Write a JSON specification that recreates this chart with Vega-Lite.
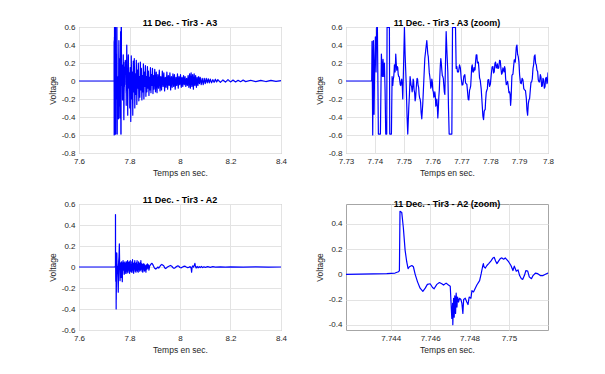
{
  "$schema": "https://vega.github.io/schema/vega-lite/v6.json",
  "autosize": {"type": "pad"},
  "padding": {"left": 47, "top": 18, "right": 5, "bottom": 5},
  "background": "white",
  "config": {
    "view": {"stroke": "#a6a6a6", "strokeWidth": 1},
    "font": "Liberation Sans",
    "axis": {
      "labelFont": "Liberation Sans", "labelFontSize": 8, "labelColor": "#262626",
      "titleFont": "Liberation Sans", "titleFontSize": 8.5, "titleFontWeight": "normal", "titleColor": "#262626",
      "domain": false, "gridColor": "#e3e3e3", "ticks": false, "labelPadding": 4,
      "labelFlush": false, "labelOverlap": false
    },
    "axisY": {"titlePadding": 4},
    "axisX": {"titlePadding": 3},
    "title": {"font": "Liberation Sans", "fontSize": 9, "fontWeight": "bold", "color": "#000000", "offset": -5}
  },
  "datasets": {
    "a3": [
      {"t":7.6,"v":0},{"t":7.73891,"v":0},{"t":7.73902,"v":0.44},{"t":7.73926,"v":-0.6},{"t":7.73949,"v":0.45},{"t":7.73972,"v":-0.37},{"t":7.73995,"v":0.2},{"t":7.74018,"v":0.49},{"t":7.74041,"v":0.1},{"t":7.74064,"v":0.595},{"t":7.74088,"v":0.595},{"t":7.74122,"v":-0.59},{"t":7.74192,"v":-0.59},{"t":7.74226,"v":0.3},{"t":7.74261,"v":0.05},{"t":7.74284,"v":0.24},{"t":7.74307,"v":0.05},{"t":7.74331,"v":0.2},{"t":7.74354,"v":-0.1},{"t":7.74377,"v":-0.59},{"t":7.74412,"v":-0.59},{"t":7.74423,"v":0.595},{"t":7.74504,"v":0.595},{"t":7.74516,"v":-0.59},{"t":7.74574,"v":-0.59},{"t":7.74597,"v":0.05},{"t":7.7462,"v":-0.05},{"t":7.74655,"v":0.05},{"t":7.74678,"v":0.18},{"t":7.74701,"v":0.1},{"t":7.74724,"v":0.3},{"t":7.74759,"v":0.12},{"t":7.74793,"v":0.15},{"t":7.74828,"v":0.05},{"t":7.74863,"v":0.0},{"t":7.74898,"v":-0.05},{"t":7.74932,"v":0.02},{"t":7.74967,"v":-0.2},{"t":7.7499,"v":0.1},{"t":7.75025,"v":0.595},{"t":7.75048,"v":0.3},{"t":7.75083,"v":0.0},{"t":7.75117,"v":-0.4},{"t":7.7514,"v":-0.59},{"t":7.75175,"v":-0.3},{"t":7.75198,"v":-0.15},{"t":7.75221,"v":0.05},{"t":7.75256,"v":-0.05},{"t":7.75291,"v":-0.12},{"t":7.75326,"v":0.02},{"t":7.7536,"v":-0.1},{"t":7.75395,"v":-0.22},{"t":7.7543,"v":-0.1},{"t":7.75464,"v":0.03},{"t":7.75499,"v":-0.05},{"t":7.75534,"v":-0.15},{"t":7.75569,"v":-0.2},{"t":7.75603,"v":-0.35},{"t":7.75626,"v":-0.42},{"t":7.75661,"v":-0.25},{"t":7.75696,"v":0.0},{"t":7.75731,"v":0.25},{"t":7.75765,"v":0.35},{"t":7.758,"v":0.45},{"t":7.75835,"v":0.3},{"t":7.75869,"v":0.18},{"t":7.75904,"v":0.05},{"t":7.75939,"v":-0.08},{"t":7.75974,"v":0.02},{"t":7.76008,"v":-0.1},{"t":7.76043,"v":-0.18},{"t":7.76078,"v":-0.12},{"t":7.76112,"v":-0.28},{"t":7.76147,"v":-0.2},{"t":7.76182,"v":-0.41},{"t":7.76216,"v":-0.18},{"t":7.76251,"v":0.05},{"t":7.76286,"v":0.25},{"t":7.76321,"v":0.12},{"t":7.76355,"v":0.05},{"t":7.7639,"v":-0.05},{"t":7.76425,"v":-0.15},{"t":7.76448,"v":0.2},{"t":7.76471,"v":0.55},{"t":7.76494,"v":0.35},{"t":7.76529,"v":0.1},{"t":7.76552,"v":-0.3},{"t":7.76575,"v":-0.59},{"t":7.76668,"v":-0.59},{"t":7.76691,"v":0.595},{"t":7.76795,"v":0.595},{"t":7.76818,"v":0.14},{"t":7.76864,"v":0.1},{"t":7.76934,"v":0.18},{"t":7.76992,"v":0.03},{"t":7.7705,"v":-0.04},{"t":7.77119,"v":0.07},{"t":7.77165,"v":-0.03},{"t":7.77212,"v":-0.12},{"t":7.77258,"v":-0.21},{"t":7.77304,"v":-0.08},{"t":7.77339,"v":0.05},{"t":7.77374,"v":0.18},{"t":7.7742,"v":0.1},{"t":7.77455,"v":0.12},{"t":7.77489,"v":0.21},{"t":7.77535,"v":0.29},{"t":7.7757,"v":0.2},{"t":7.77605,"v":0.14},{"t":7.77651,"v":0.01},{"t":7.77721,"v":-0.27},{"t":7.77767,"v":-0.43},{"t":7.77813,"v":-0.32},{"t":7.77836,"v":-0.23},{"t":7.77883,"v":-0.1},{"t":7.77917,"v":0.01},{"t":7.77975,"v":-0.06},{"t":7.78033,"v":0.07},{"t":7.78091,"v":0.16},{"t":7.78137,"v":0.1},{"t":7.78183,"v":0.21},{"t":7.7823,"v":0.16},{"t":7.78264,"v":0.14},{"t":7.78322,"v":0.23},{"t":7.78369,"v":0.14},{"t":7.78415,"v":0.09},{"t":7.78461,"v":0.12},{"t":7.78496,"v":0.16},{"t":7.78531,"v":0.03},{"t":7.78577,"v":-0.03},{"t":7.78623,"v":-0.06},{"t":7.78669,"v":-0.12},{"t":7.78704,"v":-0.27},{"t":7.78739,"v":-0.03},{"t":7.78762,"v":0.07},{"t":7.78808,"v":0.16},{"t":7.78854,"v":0.23},{"t":7.78878,"v":0.27},{"t":7.78924,"v":0.4},{"t":7.7897,"v":0.27},{"t":7.79016,"v":0.07},{"t":7.79074,"v":-0.03},{"t":7.79132,"v":0.01},{"t":7.7919,"v":-0.1},{"t":7.79248,"v":-0.19},{"t":7.79294,"v":-0.38},{"t":7.7934,"v":-0.21},{"t":7.79387,"v":-0.1},{"t":7.79433,"v":-0.01},{"t":7.79479,"v":0.14},{"t":7.79502,"v":0.18},{"t":7.79549,"v":0.29},{"t":7.79595,"v":0.18},{"t":7.79618,"v":0.12},{"t":7.79664,"v":0.01},{"t":7.79687,"v":-0.01},{"t":7.79734,"v":0.07},{"t":7.7978,"v":-0.06},{"t":7.79826,"v":0.03},{"t":7.79873,"v":-0.08},{"t":7.79919,"v":0.03},{"t":7.79965,"v":-0.03},{"t":7.8,"v":0.09},
      {"t":7.801,"v":-0.3},{"t":7.803,"v":0.15},{"t":7.805,"v":-0.45},{"t":7.807,"v":0.28},{"t":7.809,"v":-0.2},{"t":7.811,"v":0.1},{"t":7.813,"v":-0.38},{"t":7.815,"v":0.22},{"t":7.817,"v":-0.12},{"t":7.819,"v":0.25},{"t":7.821,"v":-0.3},{"t":7.823,"v":0.08},{"t":7.825,"v":-0.15},{"t":7.827,"v":0.23},{"t":7.829,"v":-0.26},{"t":7.831,"v":0.12},{"t":7.833,"v":-0.08},{"t":7.835,"v":0.2},{"t":7.837,"v":-0.22},{"t":7.839,"v":0.05},{"t":7.841,"v":-0.18},{"t":7.843,"v":0.21},{"t":7.845,"v":-0.1},{"t":7.847,"v":0.14},{"t":7.849,"v":-0.21},{"t":7.851,"v":0.06},{"t":7.853,"v":-0.12},{"t":7.855,"v":0.19},{"t":7.857,"v":-0.2},{"t":7.859,"v":0.1},{"t":7.861,"v":-0.06},{"t":7.863,"v":0.17},{"t":7.865,"v":-0.17},{"t":7.867,"v":0.05},{"t":7.869,"v":-0.12},{"t":7.871,"v":0.16},{"t":7.873,"v":-0.08},{"t":7.875,"v":0.11},{"t":7.877,"v":-0.16},{"t":7.879,"v":0.04},{"t":7.881,"v":-0.1},{"t":7.883,"v":0.15},{"t":7.885,"v":-0.13},{"t":7.887,"v":0.07},{"t":7.889,"v":-0.05},{"t":7.891,"v":0.14},{"t":7.893,"v":-0.14},{"t":7.895,"v":0.06},{"t":7.897,"v":-0.09},{"t":7.9,"v":0.13},{"t":7.903,"v":-0.12},{"t":7.906,"v":0.1},{"t":7.909,"v":-0.13},{"t":7.912,"v":0.07},{"t":7.915,"v":-0.08},{"t":7.918,"v":0.12},{"t":7.921,"v":-0.11},{"t":7.924,"v":0.05},{"t":7.927,"v":-0.1},{"t":7.93,"v":0.11},{"t":7.933,"v":-0.06},{"t":7.936,"v":0.09},{"t":7.939,"v":-0.11},{"t":7.942,"v":0.04},{"t":7.945,"v":-0.07},{"t":7.948,"v":0.1},{"t":7.951,"v":-0.09},{"t":7.954,"v":0.06},{"t":7.957,"v":-0.05},{"t":7.96,"v":0.09},{"t":7.963,"v":-0.1},{"t":7.966,"v":0.05},{"t":7.969,"v":-0.07},{"t":7.972,"v":0.08},{"t":7.975,"v":-0.06},{"t":7.978,"v":0.07},{"t":7.981,"v":-0.09},{"t":7.984,"v":0.04},{"t":7.987,"v":-0.05},{"t":7.99,"v":0.08},{"t":7.993,"v":-0.08},{"t":7.996,"v":0.05},{"t":7.999,"v":-0.04},{"t":8.002,"v":0.07},{"t":8.005,"v":-0.07},{"t":8.008,"v":0.04},{"t":8.011,"v":-0.06},{"t":8.014,"v":0.06},{"t":8.017,"v":-0.04},{"t":8.02,"v":0.05},{"t":8.023,"v":-0.06},{"t":8.026,"v":0.03},{"t":8.029,"v":-0.05},{"t":8.032,"v":0.06},{"t":8.035,"v":-0.07},{"t":8.038,"v":0.08},{"t":8.041,"v":-0.08},{"t":8.044,"v":0.09},{"t":8.047,"v":-0.06},{"t":8.05,"v":0.07},{"t":8.053,"v":-0.09},{"t":8.056,"v":0.08},{"t":8.059,"v":-0.05},{"t":8.062,"v":0.06},{"t":8.065,"v":-0.07},{"t":8.068,"v":0.04},{"t":8.071,"v":-0.05},{"t":8.074,"v":0.05},{"t":8.077,"v":-0.03},{"t":8.08,"v":0.04},{"t":8.084,"v":-0.04},{"t":8.088,"v":0.03},{"t":8.092,"v":-0.04},{"t":8.096,"v":0.03},{"t":8.1,"v":-0.03},{"t":8.104,"v":0.03},{"t":8.108,"v":-0.02},{"t":8.112,"v":0.025},{"t":8.116,"v":-0.02},{"t":8.12,"v":0.02},{"t":8.125,"v":-0.02},{"t":8.13,"v":0.015},{"t":8.135,"v":-0.015},{"t":8.14,"v":0.02},{"t":8.145,"v":-0.01},{"t":8.15,"v":0.015},{"t":8.16,"v":-0.015},{"t":8.17,"v":0.012},{"t":8.18,"v":-0.012},{"t":8.19,"v":0.015},{"t":8.2,"v":-0.01},{"t":8.21,"v":0.01},{"t":8.22,"v":-0.01},{"t":8.23,"v":0.008},{"t":8.24,"v":-0.008},{"t":8.25,"v":0.01},{"t":8.26,"v":-0.007},{"t":8.28,"v":0.008},{"t":8.3,"v":-0.007},{"t":8.32,"v":0.007},{"t":8.34,"v":-0.006},{"t":8.36,"v":0.006},{"t":8.38,"v":-0.005},{"t":8.4,"v":0.004},
      {"t":7.74638,"v":0.02},{"t":7.74666,"v":0.1},{"t":7.7469,"v":0.16},{"t":7.74712,"v":0.17},{"t":7.74741,"v":0.2},{"t":7.74776,"v":0.16},{"t":7.7481,"v":0.07},{"t":7.74845,"v":0.05},{"t":7.7488,"v":-0.04},{"t":7.74915,"v":0.0},{"t":7.7495,"v":-0.05},
      {"t":7.75273,"v":-0.06},{"t":7.75308,"v":-0.08},{"t":7.75343,"v":0.0},{"t":7.75378,"v":-0.13},{"t":7.75412,"v":-0.19},{"t":7.75447,"v":-0.02},{"t":7.75482,"v":0.02},{"t":7.75517,"v":-0.07},{"t":7.75552,"v":-0.19},{"t":7.75586,"v":-0.24},{"t":7.75852,"v":0.27},{"t":7.75887,"v":0.09},{"t":7.75921,"v":0.0},{"t":7.75956,"v":-0.06},{"t":7.75991,"v":-0.01},{"t":7.76026,"v":-0.12},{"t":7.7606,"v":-0.17},{"t":7.76095,"v":-0.17},{"t":7.7613,"v":-0.26},{"t":7.76164,"v":-0.28},{"t":7.76199,"v":-0.32},{"t":7.76234,"v":-0.1},{"t":7.76268,"v":0.17},{"t":7.76303,"v":0.2},{"t":7.76338,"v":0.06},{"t":7.76372,"v":0.03},{"t":7.76407,"v":-0.12},
      {"t":7.76841,"v":0.16},{"t":7.76899,"v":0.1},{"t":7.76963,"v":0.145},{"t":7.77021,"v":-0.045},{"t":7.77085,"v":0.055},{"t":7.77142,"v":-0.02},{"t":7.77188,"v":-0.035},{"t":7.77235,"v":-0.205},{"t":7.77281,"v":-0.105},{"t":7.77321,"v":-0.055},{"t":7.77356,"v":0.155},{"t":7.77397,"v":0.1},{"t":7.77437,"v":0.15},{"t":7.77472,"v":0.125},{"t":7.77512,"v":0.29},{"t":7.77552,"v":0.205},{"t":7.77587,"v":0.21},{"t":7.77628,"v":0.035},{"t":7.77686,"v":-0.09},{"t":7.77744,"v":-0.39},{"t":7.7779,"v":-0.335},{"t":7.77824,"v":-0.315},{"t":7.7786,"v":-0.125},{"t":7.779,"v":-0.085},{"t":7.77946,"v":0.015},{"t":7.78004,"v":-0.035},{"t":7.78062,"v":0.155},{"t":7.78114,"v":0.09},{"t":7.7816,"v":0.195},{"t":7.78207,"v":0.145},{"t":7.78247,"v":0.19},{"t":7.78293,"v":0.145},{"t":7.78346,"v":0.225},{"t":7.78392,"v":0.075},{"t":7.78438,"v":0.145},{"t":7.78479,"v":0.1},{"t":7.78514,"v":0.135},{"t":7.78554,"v":-0.04},{"t":7.786,"v":-0.005},{"t":7.78646,"v":-0.13},{"t":7.78687,"v":-0.155},{"t":7.78722,"v":-0.19},{"t":7.7875,"v":0.06},{"t":7.78785,"v":0.075},{"t":7.78831,"v":0.235},{"t":7.78866,"v":0.21},{"t":7.78901,"v":0.375},{"t":7.78947,"v":0.295},{"t":7.78993,"v":0.21},{"t":7.79045,"v":-0.02},{"t":7.79103,"v":0.03},{"t":7.79161,"v":-0.085},{"t":7.79219,"v":-0.105},{"t":7.79271,"v":-0.325},{"t":7.79317,"v":-0.255},{"t":7.79363,"v":-0.195},{"t":7.7941,"v":-0.015},{"t":7.79456,"v":0.025},{"t":7.79525,"v":0.275},{"t":7.79572,"v":0.195},{"t":7.79641,"v":0.105},{"t":7.7971,"v":-0.01},{"t":7.79757,"v":0.045},{"t":7.79803,"v":-0.055},{"t":7.7985,"v":0.015},{"t":7.79896,"v":-0.065},{"t":7.79942,"v":0.04},{"t":7.79983,"v":-0.01}
    ],
    "a2": [
      {"t":7.6,"v":0},{"t":7.74173,"v":0},{"t":7.7438,"v":0.005},{"t":7.74422,"v":0.01},{"t":7.74439,"v":0.02},{"t":7.74444,"v":0.03},{"t":7.74447,"v":0.5},{"t":7.74456,"v":0.49},{"t":7.74464,"v":0.37},{"t":7.74473,"v":0.19},{"t":7.74481,"v":0.1},{"t":7.74488,"v":0.045},{"t":7.74495,"v":0.06},{"t":7.74507,"v":0.07},{"t":7.74515,"v":0.06},{"t":7.74524,"v":0.0},{"t":7.74536,"v":-0.06},{"t":7.74549,"v":-0.11},{"t":7.74563,"v":-0.135},{"t":7.74575,"v":-0.11},{"t":7.74586,"v":-0.08},{"t":7.746,"v":-0.075},{"t":7.74612,"v":-0.105},{"t":7.7462,"v":-0.115},{"t":7.74634,"v":-0.08},{"t":7.74647,"v":-0.065},{"t":7.74659,"v":-0.075},{"t":7.74668,"v":-0.085},{"t":7.74681,"v":-0.07},{"t":7.74693,"v":-0.085},{"t":7.74702,"v":-0.095},{"t":7.74707,"v":-0.26},{"t":7.7471,"v":-0.35},{"t":7.74714,"v":-0.23},{"t":7.74715,"v":-0.4},{"t":7.74719,"v":-0.19},{"t":7.74722,"v":-0.34},{"t":7.74725,"v":-0.17},{"t":7.74729,"v":-0.31},{"t":7.74732,"v":-0.15},{"t":7.74736,"v":-0.26},{"t":7.74739,"v":-0.18},{"t":7.74744,"v":-0.22},{"t":7.74749,"v":-0.19},{"t":7.74756,"v":-0.2},{"t":7.74761,"v":-0.23},{"t":7.74766,"v":-0.31},{"t":7.7477,"v":-0.2},{"t":7.74778,"v":-0.19},{"t":7.74786,"v":-0.22},{"t":7.74792,"v":-0.24},{"t":7.74798,"v":-0.18},{"t":7.74807,"v":-0.19},{"t":7.74812,"v":-0.13},{"t":7.7482,"v":-0.14},{"t":7.74829,"v":-0.11},{"t":7.74837,"v":-0.085},{"t":7.74851,"v":-0.05},{"t":7.74859,"v":0.005},{"t":7.74866,"v":0.06},{"t":7.7487,"v":0.085},{"t":7.74873,"v":0.06},{"t":7.7488,"v":0.05},{"t":7.74888,"v":0.07},{"t":7.74897,"v":0.085},{"t":7.74908,"v":0.105},{"t":7.74919,"v":0.13},{"t":7.74925,"v":0.135},{"t":7.74932,"v":0.105},{"t":7.74939,"v":0.085},{"t":7.74947,"v":0.105},{"t":7.74956,"v":0.125},{"t":7.74964,"v":0.13},{"t":7.74973,"v":0.12},{"t":7.74981,"v":0.13},{"t":7.7499,"v":0.115},{"t":7.74998,"v":0.1},{"t":7.7501,"v":0.07},{"t":7.7502,"v":0.03},{"t":7.75027,"v":0.065},{"t":7.75037,"v":0.025},{"t":7.75046,"v":0.035},{"t":7.75054,"v":-0.01},{"t":7.75063,"v":-0.035},{"t":7.7507,"v":-0.04},{"t":7.75078,"v":-0.01},{"t":7.75086,"v":0.03},{"t":7.75095,"v":0.025},{"t":7.75103,"v":-0.02},{"t":7.75114,"v":-0.035},{"t":7.75122,"v":-0.01},{"t":7.75134,"v":0.01},{"t":7.75146,"v":0.005},{"t":7.75159,"v":-0.01},{"t":7.75173,"v":-0.01},{"t":7.75185,"v":0},{"t":7.75198,"v":0.01},
      {"t":7.754,"v":-0.1},{"t":7.7555,"v":-0.24},{"t":7.757,"v":0.05},{"t":7.7585,"v":0.1},{"t":7.7598,"v":0.22},{"t":7.761,"v":0.02},{"t":7.7625,"v":-0.13},{"t":7.764,"v":-0.05},{"t":7.7655,"v":0.04},{"t":7.767,"v":-0.1},{"t":7.7685,"v":0.05},{"t":7.77,"v":-0.06},{"t":7.7715,"v":-0.14},{"t":7.773,"v":0.02},{"t":7.7745,"v":0.06},{"t":7.776,"v":-0.03},{"t":7.7775,"v":0.04},{"t":7.779,"v":-0.07},{"t":7.7805,"v":0.02},{"t":7.782,"v":0.05},{"t":7.7835,"v":-0.06},{"t":7.785,"v":0.03},{"t":7.7865,"v":-0.04},{"t":7.788,"v":0.05},{"t":7.7895,"v":-0.06},{"t":7.791,"v":0.02},{"t":7.7925,"v":0.06},{"t":7.794,"v":-0.05},{"t":7.7955,"v":0.04},{"t":7.797,"v":-0.03},{"t":7.7985,"v":0.05},{"t":7.8,"v":-0.06},{"t":7.8015,"v":0.03},{"t":7.803,"v":0.06},{"t":7.8045,"v":-0.04},{"t":7.806,"v":0.02},{"t":7.8075,"v":-0.05},{"t":7.809,"v":0.05},{"t":7.8105,"v":-0.03},{"t":7.812,"v":0.07},{"t":7.8135,"v":-0.05},{"t":7.815,"v":0.03},{"t":7.8165,"v":-0.06},{"t":7.818,"v":0.04},{"t":7.8195,"v":-0.02},{"t":7.821,"v":0.06},{"t":7.8225,"v":-0.04},{"t":7.824,"v":0.03},{"t":7.8255,"v":-0.05},{"t":7.827,"v":0.04},{"t":7.8285,"v":-0.03},{"t":7.83,"v":0.06},{"t":7.8315,"v":-0.04},{"t":7.833,"v":0.02},{"t":7.8345,"v":-0.05},{"t":7.836,"v":0.05},{"t":7.8375,"v":-0.02},{"t":7.839,"v":0.03},{"t":7.8405,"v":-0.04},{"t":7.842,"v":0.04},{"t":7.8435,"v":-0.03},{"t":7.845,"v":0.06},{"t":7.8465,"v":-0.02},{"t":7.848,"v":0.03},{"t":7.8495,"v":-0.04},{"t":7.851,"v":0.02},{"t":7.8525,"v":-0.05},{"t":7.854,"v":0.03},{"t":7.8555,"v":-0.02},{"t":7.857,"v":0.03},{"t":7.8585,"v":-0.04},{"t":7.86,"v":0.02},{"t":7.8615,"v":-0.03},{"t":7.863,"v":0.01},{"t":7.865,"v":-0.05},{"t":7.867,"v":0.02},{"t":7.869,"v":-0.02},{"t":7.871,"v":0.03},{"t":7.873,"v":-0.01},{"t":7.875,"v":0.02},{"t":7.877,"v":-0.03},{"t":7.88,"v":0.01},{"t":7.883,"v":0.02},{"t":7.886,"v":0.03},{"t":7.889,"v":0.035},{"t":7.892,"v":0.025},{"t":7.895,"v":0.01},{"t":7.898,"v":-0.005},{"t":7.901,"v":-0.015},{"t":7.904,"v":-0.02},{"t":7.907,"v":-0.015},{"t":7.91,"v":-0.005},{"t":7.913,"v":0.0},{"t":7.916,"v":-0.01},{"t":7.919,"v":0.0},{"t":7.922,"v":0.01},{"t":7.925,"v":0.02},{"t":7.928,"v":0.025},{"t":7.931,"v":0.02},{"t":7.934,"v":0.015},{"t":7.937,"v":0.005},{"t":7.94,"v":-0.01},{"t":7.943,"v":-0.015},{"t":7.946,"v":-0.01},{"t":7.95,"v":0.0},{"t":7.954,"v":0.005},{"t":7.958,"v":0.01},{"t":7.962,"v":0.015},{"t":7.966,"v":0.01},{"t":7.97,"v":0.0},{"t":7.974,"v":-0.01},{"t":7.978,"v":-0.012},{"t":7.982,"v":-0.005},{"t":7.986,"v":0.005},{"t":7.99,"v":0.01},{"t":7.995,"v":0.008},{"t":8.0,"v":-0.005},{"t":8.005,"v":-0.008},{"t":8.01,"v":0.0},{"t":8.015,"v":0.006},{"t":8.02,"v":0.008},{"t":8.025,"v":0.0},{"t":8.03,"v":-0.006},{"t":8.035,"v":-0.004},{"t":8.04,"v":0.004},{"t":8.044,"v":-0.01},{"t":8.046,"v":-0.05},{"t":8.048,"v":0.0},{"t":8.05,"v":0.01},{"t":8.054,"v":0.0},{"t":8.057,"v":0.02},{"t":8.059,"v":0.035},{"t":8.061,"v":0.01},{"t":8.064,"v":-0.01},{"t":8.068,"v":0.005},{"t":8.072,"v":-0.008},{"t":8.076,"v":0.004},{"t":8.08,"v":-0.005},{"t":8.085,"v":0.005},{"t":8.09,"v":-0.006},{"t":8.095,"v":0.003},{"t":8.1,"v":-0.004},{"t":8.11,"v":0.004},{"t":8.12,"v":-0.003},{"t":8.13,"v":0.003},{"t":8.14,"v":-0.002},{"t":8.16,"v":0.002},{"t":8.18,"v":-0.002},{"t":8.2,"v":0.002},{"t":8.25,"v":-0.001},{"t":8.3,"v":0.001},{"t":8.35,"v":-0.001},{"t":8.4,"v":0.0}
    ]
  },
  "columns": 2,
  "spacing": {"row": 51, "column": 65},
  "bounds": "flush",
  "concat": [
    {
      "title": "11 Dec. - Tir3 - A3",
      "width": 202, "height": 126,
      "data": {"name": "a3"},
      "mark": {"type": "line", "color": "#0000ff", "strokeWidth": 1.2, "strokeJoin": "round", "clip": true},
      "encoding": {
        "x": {"field": "t", "type": "quantitative", "scale": {"domain": [7.6, 8.4], "nice": false, "zero": false},
              "axis": {"title": "Temps en sec.", "values": [7.6, 7.8, 8, 8.2, 8.4], "format": ".1~f"}},
        "y": {"field": "v", "type": "quantitative", "scale": {"domain": [-0.8, 0.6], "nice": false, "zero": false},
              "axis": {"title": "Voltage", "values": [-0.8, -0.6, -0.4, -0.2, 0, 0.2, 0.4, 0.6], "format": ".1~f", "labelExpr": "replace(datum.label, '\u2212', '-')"}}
      }
    },
    {
      "title": "11 Dec. - Tir3 - A3 (zoom)",
      "width": 202, "height": 126,
      "data": {"name": "a3"},
      "mark": {"type": "line", "color": "#0000ff", "strokeWidth": 1.2, "strokeJoin": "round", "clip": true},
      "encoding": {
        "x": {"field": "t", "type": "quantitative", "scale": {"domain": [7.73, 7.8], "nice": false, "zero": false},
              "axis": {"title": "Temps en sec.", "values": [7.73, 7.74, 7.75, 7.76, 7.77, 7.78, 7.79, 7.8], "format": ".2~f"}},
        "y": {"field": "v", "type": "quantitative", "scale": {"domain": [-0.8, 0.6], "nice": false, "zero": false},
              "axis": {"title": "Voltage", "values": [-0.8, -0.6, -0.4, -0.2, 0, 0.2, 0.4, 0.6], "format": ".1~f", "labelExpr": "replace(datum.label, '\u2212', '-')"}}
      }
    },
    {
      "title": "11 Dec. - Tir3 - A2",
      "width": 202, "height": 126,
      "data": {"name": "a2"},
      "mark": {"type": "line", "color": "#0000ff", "strokeWidth": 1.2, "strokeJoin": "round", "clip": true},
      "encoding": {
        "x": {"field": "t", "type": "quantitative", "scale": {"domain": [7.6, 8.4], "nice": false, "zero": false},
              "axis": {"title": "Temps en sec.", "values": [7.6, 7.8, 8, 8.2, 8.4], "format": ".1~f"}},
        "y": {"field": "v", "type": "quantitative", "scale": {"domain": [-0.6, 0.6], "nice": false, "zero": false},
              "axis": {"title": "Voltage", "values": [-0.6, -0.4, -0.2, 0, 0.2, 0.4, 0.6], "format": ".1~f", "labelExpr": "replace(datum.label, '\u2212', '-')"}}
      }
    },
    {
      "title": "11 Dec. - Tir3 - A2 (zoom)",
      "width": 202, "height": 126,
      "data": {"name": "a2"},
      "mark": {"type": "line", "color": "#0000ff", "strokeWidth": 1.2, "strokeJoin": "round", "clip": true},
      "encoding": {
        "x": {"field": "t", "type": "quantitative", "scale": {"domain": [7.74173, 7.75198], "nice": false, "zero": false},
              "axis": {"title": "Temps en sec.", "values": [7.744, 7.746, 7.748, 7.75], "format": ".3~f"}},
        "y": {"field": "v", "type": "quantitative", "scale": {"domain": [-0.442, 0.558], "nice": false, "zero": false},
              "axis": {"title": "Voltage", "values": [-0.4, -0.2, 0, 0.2, 0.4], "format": ".1~f", "labelExpr": "replace(datum.label, '\u2212', '-')"}}
      }
    }
  ]
}
